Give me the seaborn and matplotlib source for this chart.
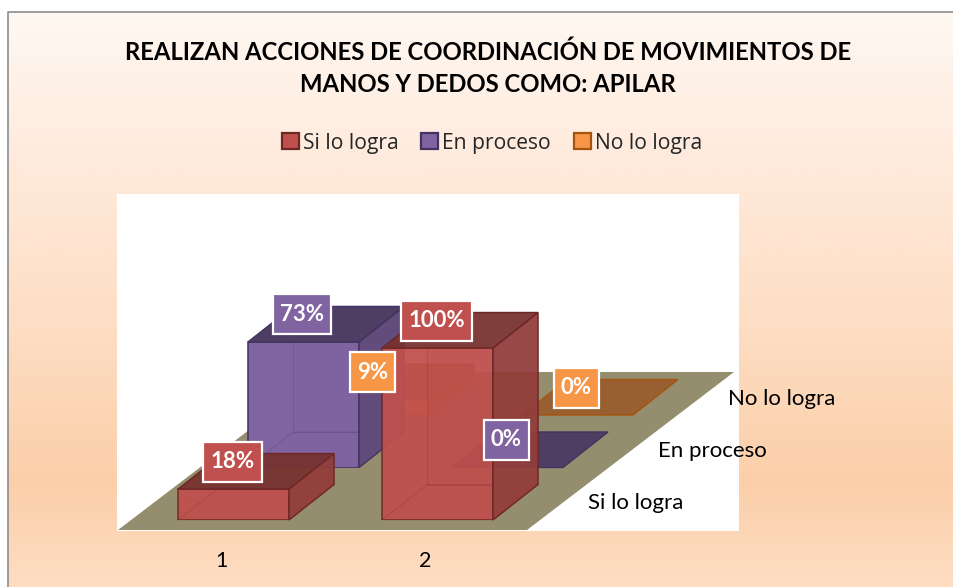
import numpy as np
import pandas as pd
import seaborn as sns
import matplotlib
matplotlib.use("Agg")
import matplotlib.pyplot as plt
from matplotlib.patches import Polygon, Rectangle
from matplotlib.path import Path
from matplotlib.colors import LinearSegmentedColormap, to_rgb
from matplotlib.transforms import ScaledTranslation

categories = ["1", "2"]
series_names = ["Si lo logra", "En proceso", "No lo logra"]
si_lo_logra = [0.18, 1.00]
en_proceso = [0.73, 0.00]
no_lo_logra = [0.09, 0.00]
series_colors = ["#C0504D", "#8064A2", "#F79646"]
series_edges = ["#6E2725", "#43325F", "#A5540F"]
title = "REALIZAN ACCIONES DE COORDINACIÓN DE MOVIMIENTOS DE\nMANOS Y DEDOS COMO: APILAR"

df = pd.DataFrame({
    "category": categories * 3,
    "series": np.repeat(series_names, 2),
    "value": si_lo_logra + en_proceso + no_lo_logra,
})

sns.set_theme(style="white")
plt.rcParams["font.family"] = ["Lato", "DejaVu Sans"]

W, H = 954, 587
fig = plt.figure(figsize=(W / 100, H / 100), dpi=100)
fig.patch.set_facecolor("white")


def px_axes(left, top, right, bottom, **kw):
    return fig.add_axes([left / W, 1 - bottom / H, (right - left) / W, (bottom - top) / H], **kw)


def label_box(x0, y0, width, height, mutation_size):
    """Label frame: wider vertical than horizontal padding, in display pixels."""
    pad_x, pad_y = 7.0, 9.5
    return Path([(x0 - pad_x, y0 - pad_y), (x0 + width + pad_x, y0 - pad_y),
                 (x0 + width + pad_x, y0 + height + pad_y), (x0 - pad_x, y0 + height + pad_y),
                 (x0 - pad_x, y0 - pad_y)], closed=True)


# Background layer in pixel coordinates
bg = px_axes(0, 0, W, H, zorder=0)
bg.axis("off")
stops = [(0.0, "#FFF8F2"), (0.22, "#FEECDF"), (0.50, "#FEE0C8"),
         (0.82, "#FBCFA9"), (1.0, "#FEDDC3")]
cmap = LinearSegmentedColormap.from_list("panel", stops)
bg.imshow(np.linspace(0, 1, 256)[:, None], cmap=cmap, extent=(8, W, H, 12), aspect="auto", zorder=0)
bg.set_xlim(0, W)
bg.set_ylim(H, 0)
bg.plot([8, 8, W], [H, 12, 12], color="#8E8E8E", lw=1.2, zorder=1)
bg.add_patch(Rectangle((117, 194), 622, 337, fc="white", ec="none", zorder=2))
bg.add_patch(Polygon([(118, 530), (527, 530), (734, 372), (325, 372)], fc="#948D6E", ec="none", zorder=3))

# Projection layout
CAT_STEP = 204.0
BAR_W = 111.0
FULL_H = 172.0
LAYER_DX, LAYER_DY = 70.0, 52.5
DEPTH_DX, DEPTH_DY = 45.0, 35.5
X_CENTER0, BASE_Y = 233.5, 520.0
ddx, ddy = DEPTH_DX / CAT_STEP, DEPTH_DY / FULL_H
face_alpha = [0.94, 1.0, 0.92]


def shade(color, k, a=1.0):
    return (*[c * k for c in to_rgb(color)], a)


for s in reversed(range(3)):
    name = series_names[s]
    left = X_CENTER0 - CAT_STEP / 2 + s * LAYER_DX
    base = BASE_Y - s * LAYER_DY
    ax = px_axes(left, base - FULL_H, left + 2 * CAT_STEP, base, zorder=3 - s + 1)
    ax.patch.set_visible(False)
    sns.barplot(data=df[df["series"] == name], x="category", y="value", order=categories,
                color=series_colors[s], saturation=1, width=BAR_W / CAT_STEP,
                edgecolor=series_edges[s], linewidth=1.1, alpha=face_alpha[s], ax=ax, errorbar=None, zorder=5)
    ax.set_xlim(-0.5, 1.5)
    ax.set_ylim(0, 1)
    for sp in ax.spines.values():
        sp.set_visible(False)
    ax.set_xlabel("")
    ax.set_ylabel("")
    ax.set_yticks([])
    if s == 0:
        ax.set_xticks(np.arange(len(categories)) - 0.06, categories)
        ax.tick_params(axis="x", length=0, pad=22, labelsize=15.5, labelcolor="black")
    else:
        ax.set_xticks([])
    edge = series_edges[s]
    values = df[df["series"] == name]["value"].to_numpy()
    for bar, v in zip(list(ax.patches), values):
        x0, x1 = bar.get_x(), bar.get_x() + bar.get_width()
        y = bar.get_height()
        a = face_alpha[s]
        hidden_kw = dict(fc=shade(series_colors[s], 0.85, 0.05), ec=shade(edge, 1, 0.22), lw=0.7,
                         clip_on=False, zorder=6)
        side_kw = dict(ec=edge, lw=1.0, clip_on=False, zorder=7)
        if y > 0:
            ax.add_patch(Polygon([(x0 + ddx, ddy), (x1 + ddx, ddy), (x1 + ddx, y + ddy), (x0 + ddx, y + ddy)], **hidden_kw))
            ax.add_patch(Polygon([(x0, 0), (x1, 0), (x1 + ddx, ddy), (x0 + ddx, ddy)], **hidden_kw))
            ax.add_patch(Polygon([(x1, 0), (x1 + ddx, ddy), (x1 + ddx, y + ddy), (x1, y)],
                                 fc=shade(series_colors[s], 0.76, a), **side_kw))
        ax.add_patch(Polygon([(x0, y), (x1, y), (x1 + ddx, y + ddy), (x0 + ddx, y + ddy)],
                             fc=shade(series_colors[s], 0.62, a), **side_kw))
        # Data label (figure level, so it sits above every bar layer)
        offset = ScaledTranslation(-1 / 100, 27.5 / 100, fig.dpi_scale_trans)
        fig.text((x0 + x1) / 2, y, f"{v:.0%}", transform=ax.transData + offset, color="white",
                 fontsize=16, fontweight="bold", ha="center", va="center", zorder=20,
                 bbox=dict(boxstyle=label_box, fc=series_colors[s], ec="white", lw=1.6))
    # Depth-axis label
    bg.text(588 + s * LAYER_DX, 503 - s * 52, name, fontsize=16, color="black", va="center", ha="left", zorder=4)

fig.text(488 / W, 1 - 68.5 / H, title, fontsize=17.2, fontweight="bold", color="black",
         ha="center", va="center", linespacing=1.5, zorder=20)

handles = [Rectangle((0, 0), 1, 1, fc=c, ec=e, lw=1.6) for c, e in zip(series_colors, series_edges)]
leg = fig.legend(handles, series_names, ncol=3, frameon=False, loc="center",
                 bbox_to_anchor=(492 / W, 1 - 143 / H), handlelength=0.8, handleheight=0.8,
                 handletextpad=0.2, columnspacing=1.07,
                 prop={"family": "Open Sans", "size": 15.2})
leg.set_zorder(20)

fig.savefig("out.png", dpi=100)
